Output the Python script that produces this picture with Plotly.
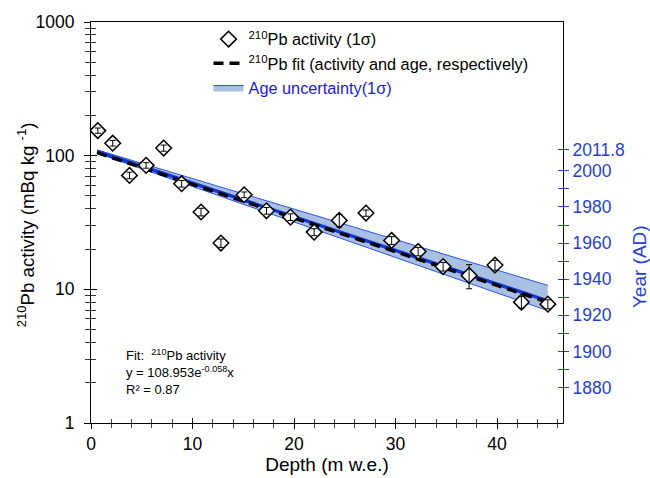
import math
import plotly.graph_objects as go

# ---- data ----
depth = [0.67, 2.14, 3.79, 5.43, 7.16, 8.93, 10.84, 12.80, 15.09, 17.29, 19.65,
         21.98, 24.46, 27.09, 29.62, 32.23, 34.69, 37.25, 39.80, 42.40, 45.01]
activity = [154, 124, 71.2, 84.6, 114, 61.7, 37.9, 22.2, 51.0, 38.7, 34.7,
            26.8, 32.8, 37.2, 23.2, 19.2, 14.8, 12.7, 15.2, 8.02, 7.75]
activity_err = [7, 6, 4, 4, 6, 3.5, 2.5, 1.6, 2.5, 2.2, 2.0,
                1.6, 3.5, 2.0, 1.6, 1.4, 1.1, 2.6, 1.3, 0.8, 0.6]

# fit: y = 108.953 e^(-0.058 x)
fit_a = 108.953
fit_b = -0.058
fit_depth = [0.6, 45.0]

# age model (right axis)
age_depth = [0.6, 45.0]
age_fit = [2010.7, 1928.0]
age_upper = [2011.6, 1936.6]
age_lower = [2009.8, 1922.6]

year_ticks = [1880, 1900, 1920, 1940, 1960, 1980, 2000, 2011.8]
year_ticktext = ["1880", "1900", "1920", "1940", "1960", "1980", "2000", "2011.8"]
year_minor = [1890, 1910, 1930, 1950, 1970, 1990]
log_major = [1, 10, 100, 1000]
log_ticktext = ["1", "10", "100", "1000"]
log_minor = [2, 3, 4, 5, 6, 7, 8, 9, 20, 30, 40, 50, 60, 70, 80, 90,
             200, 300, 400, 500, 600, 700, 800, 900]
x_major = [0, 10, 20, 30, 40]
x_minor = [2, 4, 6, 8, 12, 14, 16, 18, 22, 24, 26, 28, 32, 34, 36, 38, 42, 44, 46]

fit_act = [fit_a * math.exp(fit_b * d) for d in fit_depth]

BLUE = "#1f3fcf"
TXT_BLUE = "#1a1ad6"
FONT = "Liberation Sans, Arial, sans-serif"
TICK = 17.5
TITLE = 19

XR = [0, 46.5]
YR = [0, 3]
YEAR_R = [1860.4, 2082.4]

fig = go.Figure()

# age uncertainty band (right axis)
fig.add_trace(go.Scatter(x=age_depth, y=age_lower, yaxis="y2", mode="lines",
                         line=dict(color="#2a55e0", width=1), showlegend=False,
                         hoverinfo="skip"))
fig.add_trace(go.Scatter(x=age_depth, y=age_upper, yaxis="y2", mode="lines",
                         line=dict(color="#2a55e0", width=1), fill="tonexty",
                         fillcolor="#a9c0e2",
                         name="<span style='color:%s'>Age uncertainty(1σ)</span>" % TXT_BLUE,
                         legendrank=3))
# age fit (blue)
fig.add_trace(go.Scatter(x=age_depth, y=age_fit, yaxis="y2", mode="lines",
                         line=dict(color="#1438d8", width=3.5), showlegend=False))
# activity fit (black dashed)
fig.add_trace(go.Scatter(x=fit_depth, y=fit_act, yaxis="y5", mode="lines",
                         line=dict(color="black", width=3.5, dash="10px,6px"),
                         name="<sup>210</sup>Pb fit (activity and age, respectively)",
                         legendrank=2))
# data markers
fig.add_trace(go.Scatter(x=depth, y=activity, yaxis="y5", mode="markers",
                         marker=dict(symbol="diamond", size=12, color="white",
                                     line=dict(color="black", width=1.5)),
                         name="<sup>210</sup>Pb activity (1σ)", legendrank=1))
# error bars on top of markers
fig.add_trace(go.Scatter(x=depth, y=activity, yaxis="y5", mode="markers",
                         marker=dict(size=1, color="rgba(0,0,0,0)"),
                         error_y=dict(type="data", array=activity_err, color="black",
                                      thickness=1, width=3),
                         showlegend=False, hoverinfo="skip"))
# dummy traces for tick axes
fig.add_trace(go.Scatter(x=[None], y=[None], showlegend=False))
fig.add_trace(go.Scatter(x=[None], y=[None], xaxis="x2", yaxis="y3", showlegend=False))
fig.add_trace(go.Scatter(x=[None], y=[None], yaxis="y4", showlegend=False))

fig.update_layout(
    width=650, height=478,
    margin=dict(l=90.5, r=87.3, t=22, b=54.5, autoexpand=False),
    paper_bgcolor="white", plot_bgcolor="white",
    font=dict(family=FONT, size=TICK, color="black"),
    showlegend=True,
    legend=dict(x=0.249, y=1.0, xanchor="left", yanchor="top", traceorder="normal",
                bgcolor="rgba(0,0,0,0)", font=dict(size=16.3), tracegroupgap=0,
                itemwidth=30),
    xaxis=dict(range=XR, showgrid=False, zeroline=False, automargin=False,
               showline=True, linecolor="black", linewidth=1.2, mirror=True,
               tickmode="array", tickvals=x_major,
               ticks="outside", ticklen=5, tickwidth=1, tickcolor="black",
               minor=dict(tickmode="array", tickvals=x_minor,
                          ticks="outside", ticklen=4, tickcolor="#444"),
               title=dict(text="Depth (m w.e.)", font=dict(size=TITLE), standoff=4)),
    xaxis2=dict(range=XR, overlaying="x", anchor="y", side="bottom", showgrid=False,
                zeroline=False, showticklabels=False, automargin=False,
                tickmode="array", tickvals=x_major,
                ticks="inside", ticklen=5, tickcolor="black",
                minor=dict(tickmode="array", tickvals=x_minor,
                           ticks="inside", ticklen=4, tickcolor="#444")),
    yaxis=dict(type="log", range=YR, showgrid=False, zeroline=False, automargin=False,
               showline=True, linecolor="black", linewidth=1.2, mirror=True,
               tickmode="array", tickvals=log_major, ticktext=log_ticktext,
               ticks="outside", ticklen=6, tickcolor="black", ticklabelstandoff=6,
               minor=dict(tickmode="array", tickvals=log_minor, ticks="outside",
                          ticklen=5, tickcolor="#333")),
    yaxis3=dict(type="log", range=YR, overlaying="y", anchor="x", side="left",
                showgrid=False, zeroline=False, showticklabels=False, automargin=False,
                tickmode="array", tickvals=log_major,
                ticks="inside", ticklen=6, tickcolor="black",
                minor=dict(tickmode="array", tickvals=log_minor, ticks="inside",
                           ticklen=5, tickcolor="#333")),
    yaxis2=dict(range=YEAR_R, overlaying="y", anchor="x", side="right",
                showgrid=False, zeroline=False, showline=False, automargin=False,
                tickmode="array", tickvals=year_ticks, ticktext=year_ticktext,
                ticks="outside", ticklen=5, tickcolor=BLUE, tickwidth=1.3,
                tickfont=dict(color=BLUE, size=TICK),
                minor=dict(tickmode="array", tickvals=year_minor, ticks="outside",
                           ticklen=5, tickcolor=BLUE)),
    yaxis4=dict(range=YEAR_R, overlaying="y", anchor="x", side="right",
                showgrid=False, zeroline=False, showline=False, showticklabels=False,
                automargin=False,
                tickmode="array", tickvals=year_ticks,
                ticks="inside", ticklen=5, tickcolor=BLUE, tickwidth=1.3,
                minor=dict(tickmode="array", tickvals=year_minor, ticks="inside",
                           ticklen=5, tickcolor=BLUE)),
    yaxis5=dict(type="log", range=YR, overlaying="y", anchor="x", side="left",
                visible=False, automargin=False),
    annotations=[
        dict(xref="paper", yref="paper", x=-0.138, y=0.495, xanchor="center", yanchor="middle",
             textangle=-90, showarrow=False, font=dict(size=18.7),
             text="<sup>210</sup>Pb activity (mBq kg <sup>-1</sup>)"),
        dict(xref="paper", yref="paper", x=1.162, y=0.39, xanchor="center", yanchor="middle",
             textangle=-90, showarrow=False, font=dict(size=TITLE, color=BLUE),
             text="Year (AD)"),
        dict(xref="paper", yref="paper", x=0.07, y=0.195, xanchor="left", yanchor="top",
             align="left", showarrow=False, font=dict(size=13),
             text="Fit:  <sup>210</sup>Pb activity<br>y = 108.953e<sup>-0.058</sup>x<br>R² = 0.87"),
    ],
)

fig.write_html("out.html", config={"displayModeBar": False},
               post_script="document.body.style.margin='0';document.body.style.overflow='hidden';")
